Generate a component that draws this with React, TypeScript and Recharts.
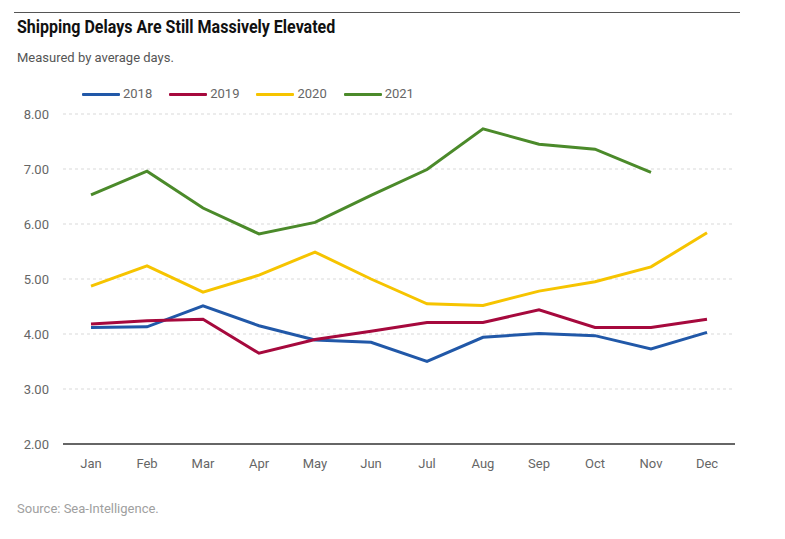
import { LineChart, Line, XAxis, YAxis, CartesianGrid } from 'recharts';

const months = ['Jan', 'Feb', 'Mar', 'Apr', 'May', 'Jun', 'Jul', 'Aug', 'Sep', 'Oct', 'Nov', 'Dec'];

const y2018 = [4.12, 4.13, 4.51, 4.15, 3.89, 3.85, 3.5, 3.94, 4.01, 3.97, 3.73, 4.03];
const y2019 = [4.18, 4.24, 4.27, 3.65, 3.9, 4.05, 4.21, 4.21, 4.44, 4.12, 4.12, 4.27];
const y2020 = [4.87, 5.24, 4.76, 5.07, 5.49, 5.0, 4.55, 4.52, 4.78, 4.95, 5.22, 5.84];
const y2021 = [6.53, 6.96, 6.29, 5.82, 6.03, 6.52, 6.99, 7.73, 7.45, 7.36, 6.94, null];

const yTicks = [2, 3, 4, 5, 6, 7, 8];

const SERIES = [
  { key: 'y2018', name: '2018', color: '#2158a8' },
  { key: 'y2019', name: '2019', color: '#a6093d' },
  { key: 'y2020', name: '2020', color: '#f6c400' },
  { key: 'y2021', name: '2021', color: '#4b8a2a' },
];

const FONT = 'Roboto, "Liberation Sans", sans-serif';

const data = months.map((m, i) => ({
  month: m,
  y2018: y2018[i],
  y2019: y2019[i],
  y2020: y2020[i],
  y2021: y2021[i],
}));

export default function App() {
  return (
    <div
      style={{
        position: 'absolute',
        left: 0,
        top: 0,
        width: 785,
        height: 539,
        background: '#fff',
        fontFamily: FONT,
        overflow: 'hidden',
      }}
    >
      <div style={{ position: 'absolute', left: 14, top: 12, width: 726, height: 1, background: '#555' }} />
      <div
        style={{
          position: 'absolute',
          left: 17,
          top: 17,
          fontSize: 18,
          fontWeight: 700,
          color: '#111',
          lineHeight: '20px',
          whiteSpace: 'nowrap',
          transform: 'scaleX(0.89)',
          transformOrigin: 'left center',
        }}
      >
        Shipping Delays Are Still Massively Elevated
      </div>
      <div
        style={{
          position: 'absolute',
          left: 17,
          top: 49,
          fontSize: 13,
          color: '#555',
          lineHeight: '18px',
          whiteSpace: 'nowrap',
        }}
      >
        Measured by average days.
      </div>

      {/* legend */}
      <div style={{ position: 'absolute', left: 82, top: 85, display: 'flex', alignItems: 'center' }}>
        {SERIES.map((s) => (
          <div key={s.key} style={{ display: 'flex', alignItems: 'center', marginRight: 17 }}>
            <div style={{ width: 38, height: 3, background: s.color, borderRadius: 1 }} />
            <span style={{ fontSize: 13, color: '#666', marginLeft: 3, lineHeight: '18px' }}>{s.name}</span>
          </div>
        ))}
      </div>

      <div style={{ position: 'absolute', left: 0, top: 0 }}>
        <LineChart width={785} height={539} data={data} margin={{ top: 114, right: 50, bottom: 65, left: 0 }}>
          <CartesianGrid vertical={false} stroke="#d9d9d9" strokeDasharray="3 3" />
          <XAxis
            dataKey="month"
            axisLine={{ stroke: '#666', strokeWidth: 2 }}
            tickLine={false}
            tickSize={6}
            tickMargin={9}
            tick={{ fill: '#666', fontSize: 13, fontFamily: FONT }}
            interval={0}
            padding={{ left: 28, right: 28 }}
            height={30}
          />
          <YAxis
            domain={[2, 8]}
            ticks={yTicks}
            width={63}
            axisLine={false}
            tickLine={false}
            tickSize={6}
            tickMargin={8}
            tick={{ fill: '#666', fontSize: 13, fontFamily: FONT }}
            tickFormatter={(v: number) => v.toFixed(2)}
          />
          {SERIES.map((s) => (
            <Line
              key={s.key}
              type="linear"
              dataKey={s.key}
              stroke={s.color}
              strokeWidth={3}
              dot={false}
              activeDot={false}
              isAnimationActive={false}
            />
          ))}
        </LineChart>
      </div>

      <div
        style={{
          position: 'absolute',
          left: 17,
          top: 500,
          fontSize: 13,
          color: '#a0a0a0',
          lineHeight: '18px',
          whiteSpace: 'nowrap',
        }}
      >
        Source: Sea-Intelligence.
      </div>
    </div>
  );
}
